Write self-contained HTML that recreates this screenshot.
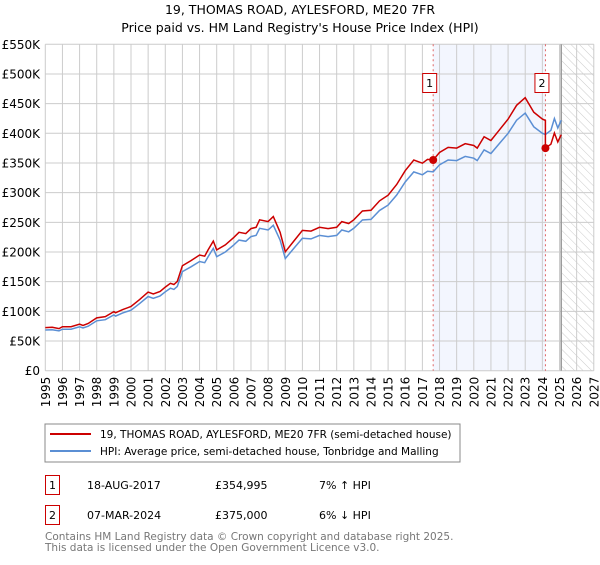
<!DOCTYPE html>
<html><head><meta charset="utf-8"><style>
body{margin:0;background:#fff;font-family:"Liberation Sans","DejaVu Sans",sans-serif;}
</style></head><body>
<svg width="600" height="560" xmlns="http://www.w3.org/2000/svg" style="font-family:'DejaVu Sans','Liberation Sans',sans-serif">
<defs><pattern id="hatch" width="6" height="6" patternUnits="userSpaceOnUse" patternTransform="rotate(-45)"><line x1="0" y1="0" x2="0" y2="6" stroke="#ccc" stroke-width="1"/></pattern></defs>
<text x="300" y="14" text-anchor="middle" font-size="12.5">19, THOMAS ROAD, AYLESFORD, ME20 7FR</text>
<text x="300" y="32" text-anchor="middle" font-size="12.5">Price paid vs. HM Land Registry's House Price Index (HPI)</text>
<g id="plot"></g>
<rect x="45" y="424" width="415" height="38" fill="#fff" stroke="#888"/>
<line x1="50" y1="434" x2="91" y2="434" stroke="#cc0000" stroke-width="2"/>
<text x="100" y="438" font-size="10.5">19, THOMAS ROAD, AYLESFORD, ME20 7FR (semi-detached house)</text>
<line x1="50" y1="451" x2="91" y2="451" stroke="#5b8fd4" stroke-width="2"/>
<text x="100" y="455" font-size="10.5">HPI: Average price, semi-detached house, Tonbridge and Malling</text>
<g font-size="11">
<rect x="45.5" y="475.5" width="14" height="19" fill="#fff" stroke="#cc0000"/>
<text x="52.5" y="489" text-anchor="middle">1</text>
<text x="87" y="489">18-AUG-2017</text><text x="215" y="489">£354,995</text><text x="319" y="489">7% ↑ HPI</text>
<rect x="45.5" y="505.5" width="14" height="19" fill="#fff" stroke="#cc0000"/>
<text x="52.5" y="519" text-anchor="middle">2</text>
<text x="87" y="519">07-MAR-2024</text><text x="215" y="519">£375,000</text><text x="319" y="519">6% ↓ HPI</text>
</g>
<text x="45" y="540" font-size="10.5" fill="#777">Contains HM Land Registry data © Crown copyright and database right 2025.</text>
<text x="45" y="551" font-size="10.5" fill="#777">This data is licensed under the Open Government Licence v3.0.</text>
</svg>
<script>
const yTicks=[0,50,100,150,200,250,300,350,400,450,500,550];
const yTickLabels=["£0","£50K","£100K","£150K","£200K","£250K","£300K","£350K","£400K","£450K","£500K","£550K"];
const xYears=[1995,1996,1997,1998,1999,2000,2001,2002,2003,2004,2005,2006,2007,2008,2009,2010,2011,2012,2013,2014,2015,2016,2017,2018,2019,2020,2021,2022,2023,2024,2025,2026,2027];
const hpiYears=[1995,1995.4,1995.8,1996,1996.5,1997,1997.2,1997.5,1998,1998.5,1999,1999.1,1999.5,2000,2000.5,2001,2001.3,2001.7,2002,2002.3,2002.5,2002.7,2003,2003.5,2004,2004.3,2004.5,2004.8,2005,2005.5,2006,2006.3,2006.7,2007,2007.3,2007.5,2008,2008.3,2008.7,2009,2009.5,2010,2010.5,2011,2011.5,2012,2012.3,2012.7,2013,2013.5,2014,2014.5,2015,2015.5,2016,2016.5,2017,2017.3,2017.63,2018,2018.5,2019,2019.5,2020,2020.2,2020.6,2021,2021.5,2022,2022.5,2023,2023.5,2024,2024.18,2024.5,2024.7,2024.9,2025.1];
const hpiValues=[68.5,69,67,70,70,74,72,75,84,86,94,92,97,102,113,125,122,126,133,139,137,142,167,175,184,182,192,206,192,200,212,220,218,226,228,240,237,245,220,189,206,223,222,228,226,228,237,234,240,254,255,270,279,296,318,335,330,336,335,347,355,354,361,358,354,372,366,383,400,422,434,411,400,398,405,425,409,422];
const saleYears=[2017.63,2024.18];
const salePrices=[354.995,375];
const X0=45.3,XW=17.14,Y0=370.7,YK=0.5935;
const xs=y=>X0+(y-1995)*XW, ys=v=>Y0-v*YK;
const NS="http://www.w3.org/2000/svg", g=document.getElementById('plot');
function mk(t,a){const e=document.createElementNS(NS,t);for(const k in a)e.setAttribute(k,a[k]);g.appendChild(e);return e;}
let e=mk('rect',{x:xs(saleYears[0]),y:ys(550),width:xs(saleYears[1])-xs(saleYears[0]),height:ys(0)-ys(550),fill:'#f3f6fe'});


e=mk('rect',{x:xs(2025.1),y:ys(550),width:xs(2027)-xs(2025.1),height:ys(0)-ys(550),fill:'url(#hatch)'});


yTicks.forEach((v,i)=>{
 e=mk('line',{x1:X0,x2:xs(2027),y1:ys(v),y2:ys(v),stroke:'#ccc'});
 
 
 e=mk('text',{x:40,y:ys(v)+4.5,'text-anchor':'end','font-size':'12'});e.textContent=yTickLabels[i];
 
 
});
xYears.forEach(y=>{
 e=mk('line',{x1:xs(y),x2:xs(y),y1:ys(550),y2:ys(0),stroke:'#ccc'});
 
 
 e=mk('text',{x:0,y:0,'font-size':'12','text-anchor':'end',transform:`translate(${xs(y)+4.5},${ys(0)+6}) rotate(-90)`});e.textContent=y;
 
 
});
e=mk('line',{x1:xs(2025.1),x2:xs(2025.1),y1:ys(550),y2:ys(0),stroke:'#999','stroke-width':1.5});


saleYears.forEach((y,i)=>{
 e=mk('line',{x1:xs(y),x2:xs(y),y1:ys(550),y2:ys(0),stroke:'#e06666','stroke-dasharray':'2,3'});
 
 
});
function interp(y){for(let i=1;i<hpiYears.length;i++){if(y<=hpiYears[i]){const t=(y-hpiYears[i-1])/(hpiYears[i]-hpiYears[i-1]);return hpiValues[i-1]+t*(hpiValues[i]-hpiValues[i-1]);}}return hpiValues[hpiValues.length-1];}
const r1=salePrices[0]/interp(saleYears[0]), r2=salePrices[1]/interp(saleYears[1]);
let bp='',rp='';
hpiYears.forEach((y,i)=>{bp+=(i?'L':'M')+xs(y).toFixed(1)+','+ys(hpiValues[i]).toFixed(1);});
hpiYears.forEach((y,i)=>{if(y<saleYears[1])rp+=(i?'L':'M')+xs(y).toFixed(1)+','+ys(hpiValues[i]*r1).toFixed(1);});
rp+='L'+xs(saleYears[1]).toFixed(1)+','+ys(interp(saleYears[1])*r1).toFixed(1);
hpiYears.forEach((y,i)=>{if(y>=saleYears[1])rp+='L'+xs(y).toFixed(1)+','+ys(hpiValues[i]*r2).toFixed(1);});
e=mk('path',{d:bp,fill:'none',stroke:'#5b8fd4','stroke-width':1.5});


e=mk('path',{d:rp,fill:'none',stroke:'#cc0000','stroke-width':1.5});


saleYears.forEach((y,i)=>{
 e=mk('circle',{cx:xs(y),cy:ys(salePrices[i]),r:4,fill:'#cc0000'});
 
 
 const bx=xs(y)-11;
 e=mk('rect',{x:bx+0.5,y:73.5,width:14,height:19,fill:'#fff',stroke:'#cc0000'});
 
 
 e=mk('text',{x:bx+7.5,y:87,'text-anchor':'middle','font-size':'11'});e.textContent=String(i+1);
 
 
});
</script>
</body></html>
